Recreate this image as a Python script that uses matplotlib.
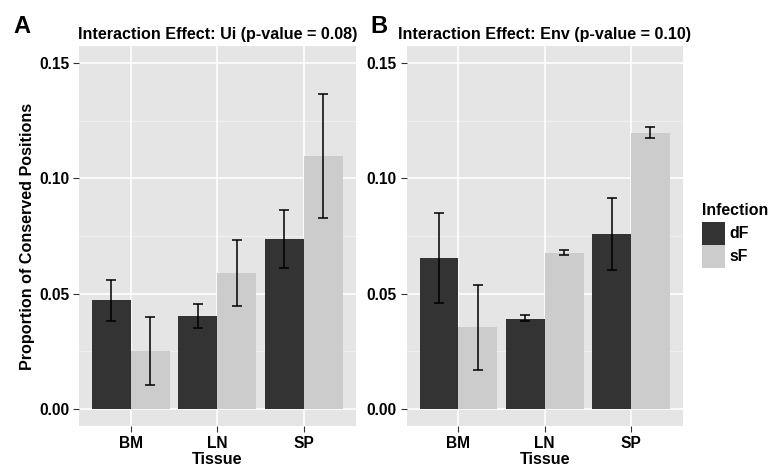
import matplotlib.pyplot as plt
import numpy as np
from matplotlib.patches import Rectangle

plt.rcParams['font.family'] = ['Liberation Sans', 'DejaVu Sans']
plt.rcParams['font.weight'] = 'bold'

tissues = ["BM", "LN", "SP"]
groups = ["dF", "sF"]
colors = ["#333333", "#CCCCCC"]

# panel A: Ui
ui_mean = {"dF": [0.0470, 0.0404, 0.0736], "sF": [0.0252, 0.0588, 0.1096]}
ui_lo = {"dF": [0.0379, 0.0350, 0.0609], "sF": [0.0105, 0.0447, 0.0826]}
ui_hi = {"dF": [0.0560, 0.0456, 0.0865], "sF": [0.0398, 0.0733, 0.1366]}

# panel B: Env
env_mean = {"dF": [0.0653, 0.0391, 0.0759], "sF": [0.0355, 0.0676, 0.1197]}
env_lo = {"dF": [0.0459, 0.0382, 0.0603], "sF": [0.0170, 0.0666, 0.1174]}
env_hi = {"dF": [0.0851, 0.0406, 0.0913], "sF": [0.0538, 0.0689, 0.1222]}

titles = ["Interaction Effect: Ui (p-value = 0.08)",
          "Interaction Effect: Env (p-value = 0.10)"]

fig = plt.figure(figsize=(7.71, 4.66), dpi=100)
axA = fig.add_axes([79 / 771, 1 - 426 / 466, 276.7 / 771, 380 / 466])
axB = fig.add_axes([406.7 / 771, 1 - 426 / 466, 276 / 771, 380 / 466])

x = np.arange(len(tissues))
w = 0.45

for ax, mean, lo, hi, title in [(axA, ui_mean, ui_lo, ui_hi, titles[0]),
                                (axB, env_mean, env_lo, env_hi, titles[1])]:
    ax.set_facecolor("#E5E5E5")
    for s in ax.spines.values():
        s.set_visible(False)
    # grid
    for yv in [0.025, 0.075, 0.125]:
        ax.axhline(yv, color="#F2F2F2", lw=0.6, zorder=0)
    for yv in [0, 0.05, 0.10, 0.15]:
        ax.axhline(yv, color="white", lw=1.2, zorder=0)
    for xv in x:
        ax.axvline(xv, color="white", lw=1.2, zorder=0)
    for i, g in enumerate(groups):
        xs = x + (i - 0.5) * w
        m = np.array(mean[g])
        ax.bar(xs, m, width=w, color=colors[i], zorder=2, label=g)
        ax.errorbar(xs, m, yerr=[m - np.array(lo[g]), np.array(hi[g]) - m],
                    fmt='none', ecolor='black', elinewidth=1.1,
                    capsize=3.3, capthick=1.1, zorder=3)
    ax.set_xlim(-0.6, 2.6)
    ax.set_ylim(-0.0075, 0.1575)
    ax.set_yticks([0, 0.05, 0.10, 0.15])
    ax.set_yticklabels(["0.00", "0.05", "0.10", "0.15"])
    ax.set_xticks(x)
    ax.set_xticklabels(tissues)
    ax.tick_params(axis='both', length=4, width=0.8, color="#333333",
                   labelsize=11.2, labelcolor="black", pad=3)
    ax.set_xlabel("Tissue", fontsize=11.6, fontweight='bold', labelpad=1)
    ax.set_title(title, fontsize=11.6, fontweight='bold', pad=5)

axA.set_ylabel("Proportion of Conserved Positions", fontsize=11.6,
               fontweight='bold', labelpad=3)

fig.text(13 / 771, 1 - 33 / 466, "A", fontsize=17, fontweight='bold')
fig.text(370 / 771, 1 - 33 / 466, "B", fontsize=17, fontweight='bold')

# legend
fig.text(702 / 771, 1 - 211 / 466, "Infection", fontsize=11.4,
         fontweight='bold', va='center')
for i, g in enumerate(groups):
    top = 222 + i * 23
    fig.patches.append(Rectangle((702 / 771, 1 - (top + 23) / 466), 23 / 771,
                                 23 / 466, transform=fig.transFigure,
                                 facecolor=colors[i], edgecolor='none'))
    fig.text(729 / 771, 1 - (top + 11.5) / 466, g, fontsize=11.4,
             fontweight='bold', va='center')

fig.savefig("out.png", dpi=100)
